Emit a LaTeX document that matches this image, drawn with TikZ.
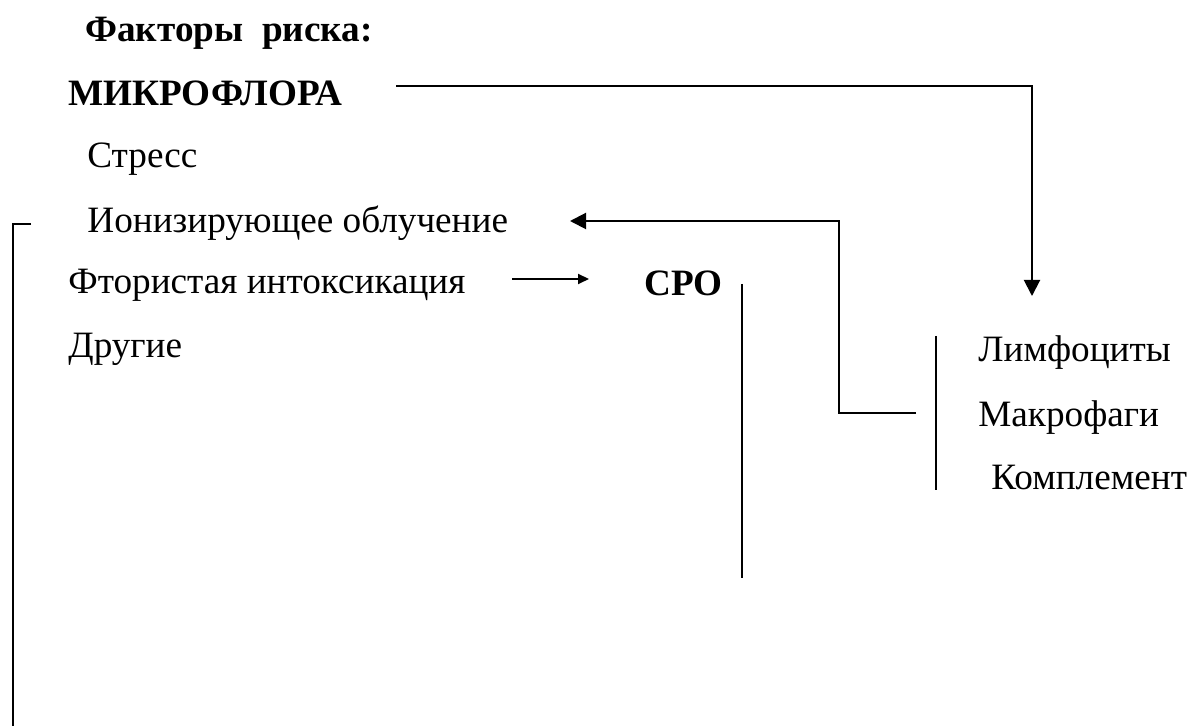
\documentclass[tikz,border=0pt]{standalone}
\usepackage{fontspec}
\setmainfont{Liberation Serif}
\usetikzlibrary{arrows.meta,positioning}

\begin{document}
\begin{tikzpicture}[x=0.5pt,y=-0.5pt,
  txt/.style={anchor=base west, inner sep=0pt, font=\fontsize{18.6}{22}\selectfont},
  head/.style={txt, font=\fontsize{18.6}{22}\selectfont\bfseries},
  link/.style={line width=1pt},
  bigtip/.style={link, -{Triangle[length=8pt,width=8pt]}},
  smalltip/.style={link, -{Triangle[length=5.5pt,width=5pt]}}]
\useasboundingbox (0,0) rectangle (1195,726);

% risk factors
\node[head] (factors) at (85,42) {Факторы\ \ риска:};
\node[head] (microflora) at (68,106) {МИКРОФЛОРА};
\node[txt] (stress) at (87,168) {Стресс};
\node[txt] (ionizing) at (87,233) {Ионизирующее облучение};
\node[txt] (fluoride) at (68,294) {Фтористая интоксикация};
\node[txt] (other) at (68,358) {Другие};
\node[head] (sro) at (644,296) {СРО};

% immune cells
\node[txt] (lympho) at (978,362) {Лимфоциты};
\node[txt] (macro) at (978,427) {Макрофаги};
\node[txt] (compl) at (991,490) {Комплемент};

\coordinate (mf out) at (396,86);
\coordinate (cells in) at (1032,296);
\coordinate (ion in) at (570,221);
\coordinate (macro out) at (916,413);
\coordinate (fl out) at (512,279);
\coordinate (sro in) at (589,279);

\draw[bigtip] (mf out) -| (cells in);
\draw[bigtip] (macro out) -- (839,413) |- (ion in);
\draw[smalltip] (fl out) -- (sro in);

% brackets
\draw[link] (936,336) -- (936,490);
\draw[link] (742,284) -- (742,578);
\draw[link] (31,224) -- (13,224) -- (13,726);
\end{tikzpicture}
\end{document}
